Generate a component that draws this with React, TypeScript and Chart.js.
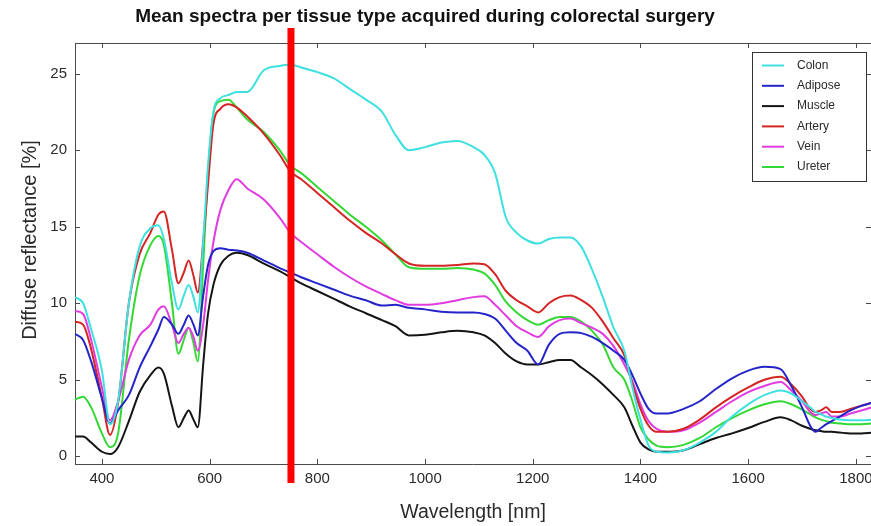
import React, { useEffect, useRef } from 'react';
import { Chart, registerables } from 'chart.js';
Chart.register(...registerables);

const TITLE = 'Mean spectra per tissue type acquired during colorectal surgery';
const X_TITLE = 'Wavelength [nm]';
const Y_TITLE = 'Diffuse reflectance [%]';

const WAVELENGTHS = [350, 365, 380, 400, 415, 430, 450, 470, 490, 505, 515, 530, 542, 552, 561, 570, 578, 588, 597, 607, 620, 635, 650, 670, 700, 730, 750, 770, 800, 830, 860, 890, 920, 945, 970, 1000, 1030, 1060, 1090, 1110, 1130, 1150, 1170, 1190, 1210, 1230, 1250, 1270, 1290, 1310, 1330, 1350, 1370, 1385, 1400, 1415, 1430, 1450, 1480, 1510, 1540, 1570, 1600, 1630, 1660, 1680, 1700, 1715, 1725, 1735, 1745, 1755, 1770, 1790, 1810, 1830];

const COLON = [10.4, 10.0, 8.3, 5.6, 2.1, 3.6, 10.0, 13.7, 14.9, 15.1, 14.2, 11.3, 9.6, 10.5, 11.2, 10.4, 9.4, 14.0, 19.0, 22.5, 23.4, 23.6, 23.8, 23.8, 25.2, 25.5, 25.6, 25.4, 25.1, 24.7, 24.0, 23.3, 22.5, 21.0, 20.0, 20.2, 20.5, 20.6, 20.2, 19.7, 18.5, 15.6, 14.6, 14.1, 13.9, 14.2, 14.3, 14.3, 13.7, 12.2, 10.4, 8.4, 6.9, 4.5, 2.4, 0.7, 0.3, 0.25, 0.4, 0.9, 1.6, 2.6, 3.4, 4.0, 4.3, 4.1, 3.6, 3.2, 2.9, 2.75, 2.6, 2.5, 2.4, 2.35, 2.35, 2.4];
const ADIPOSE = [8.0, 7.6, 6.2, 3.8, 2.15, 3.0, 4.0, 5.8, 7.2, 8.3, 9.1, 8.6, 8.0, 8.6, 9.2, 8.6, 7.9, 10.5, 12.5, 13.4, 13.6, 13.5, 13.45, 13.3, 12.8, 12.3, 12.0, 11.7, 11.3, 10.9, 10.5, 10.2, 9.85, 9.9, 9.7, 9.6, 9.45, 9.4, 9.4, 9.3, 9.0, 8.2, 7.4, 6.9, 6.0, 7.3, 8.0, 8.1, 8.05, 7.8, 7.4, 6.9, 6.3, 5.3, 4.1, 3.1, 2.8, 2.8, 3.1, 3.6, 4.4, 5.1, 5.6, 5.85, 5.7, 4.6, 3.2, 2.0, 1.6, 1.85, 2.1, 2.3, 2.6, 3.0, 3.3, 3.5];
const MUSCLE = [1.3, 1.3, 0.9, 0.3, 0.15, 0.6, 2.3, 4.2, 5.3, 5.8, 5.4, 3.3, 1.9, 2.5, 3.0, 2.4, 1.9, 6.0, 9.3, 11.2, 12.5, 13.1, 13.3, 13.15, 12.6, 12.1, 11.7, 11.3, 10.8, 10.3, 9.8, 9.35, 8.9, 8.5, 7.9, 7.95, 8.1, 8.2, 8.1, 7.9, 7.4, 6.7, 6.2, 6.0, 6.0, 6.15, 6.3, 6.3, 5.8, 5.3, 4.7, 4.0, 3.2, 2.0, 0.9, 0.45, 0.3, 0.3, 0.4, 0.8, 1.2, 1.5, 1.85, 2.25, 2.55, 2.35, 2.0, 1.8, 1.7, 1.65, 1.6, 1.6, 1.55, 1.5, 1.5, 1.55];
const ARTERY = [8.8, 8.6, 7.0, 3.8, 1.4, 3.5, 10.0, 13.2, 14.6, 15.8, 16.0, 13.5, 11.3, 12.0, 12.8, 11.8, 10.7, 14.0, 17.8, 21.7, 22.7, 23.0, 22.8, 22.2, 21.1, 19.7, 18.6, 18.1, 17.2, 16.3, 15.4, 14.6, 13.9, 13.2, 12.6, 12.45, 12.45, 12.5, 12.6, 12.55, 11.9, 10.8, 10.2, 9.8, 9.4, 10.0, 10.4, 10.5, 10.2, 9.7, 8.8, 7.7, 6.6, 4.7, 3.1, 2.0, 1.6, 1.6, 1.8, 2.4, 3.2, 3.9, 4.5, 5.0, 5.2, 4.7, 3.9, 3.1, 2.9, 3.0, 3.2, 2.9, 2.9, 3.1, 3.3, 3.5];
const VEIN = [9.5, 9.3, 7.6, 4.5, 2.35, 3.6, 6.3, 7.9, 8.6, 9.6, 9.8, 8.6, 7.4, 8.0, 8.4, 7.8, 6.9, 8.6, 11.5, 14.0, 16.1, 17.4, 18.1, 17.5, 16.8, 15.6, 14.6, 14.0, 13.2, 12.4, 11.7, 11.1, 10.6, 10.2, 9.9, 9.9, 10.0, 10.2, 10.4, 10.45, 9.9, 9.2, 8.5, 8.1, 7.8, 8.5, 8.9, 9.0, 8.7, 8.4, 8.0, 7.2, 6.0, 4.9, 3.4, 2.3, 1.8, 1.6, 1.7, 2.2, 2.9, 3.6, 4.2, 4.6, 4.85, 4.3, 3.6, 2.9, 2.7, 2.8, 2.9, 2.6, 2.6, 2.8, 3.0, 3.2];
const URETER = [3.7, 3.9, 3.2, 1.5, 0.6, 1.5, 7.6, 11.8, 13.8, 14.4, 13.8, 10.0, 6.7, 7.6, 8.4, 7.4, 6.2, 12.5, 18.5, 22.4, 23.2, 23.3, 22.8, 22.0, 21.2, 20.0, 19.0, 18.5, 17.6, 16.7, 15.8, 15.0, 14.1, 13.2, 12.35, 12.25, 12.25, 12.3, 12.2, 11.95, 11.2, 10.1, 9.4, 8.9, 8.6, 8.9, 9.1, 9.1, 8.8, 8.2, 7.3, 5.8, 5.0, 3.6, 1.9, 1.1, 0.7, 0.6, 0.75, 1.2, 1.9, 2.5, 3.0, 3.4, 3.6, 3.4, 3.05, 2.75, 2.55, 2.4, 2.3, 2.2, 2.15, 2.1, 2.1, 2.15];

const SERIES_NAMES = ['Colon', 'Adipose', 'Muscle', 'Artery', 'Vein', 'Ureter'];
const SERIES_VALUES = [COLON, ADIPOSE, MUSCLE, ARTERY, VEIN, URETER];
const SERIES_COLORS = ['#3ee0e0', '#2424c8', '#141414', '#d42424', '#e03ce0', '#34d834'];

const X_TICKS = [400, 600, 800, 1000, 1200, 1400, 1600, 1800];
const Y_TICKS = [0, 5, 10, 15, 20, 25];
const X_MIN = 350;
const X_MAX = 1828;
const Y_MIN = -0.5;
const Y_MAX = 27;
const MARKER_NM = 751;

const FONT = "'Liberation Sans', Arial, sans-serif";
const AXIS_COLOR = '#4a4a4a';
const TEXT_COLOR = '#2a2a2a';

const framePlugin = {
  id: 'frameAndExtras',
  afterDraw(chart: any) {
    const { ctx, chartArea, scales } = chart;
    const { left, right, top, bottom } = chartArea;
    const xs = scales.x;
    const ys = scales.y;
    ctx.save();
    ctx.strokeStyle = AXIS_COLOR;
    ctx.lineWidth = 1;
    ctx.beginPath();
    ctx.moveTo(left, top + 0.5);
    ctx.lineTo(right, top + 0.5);
    ctx.stroke();
    const tl = 5;
    ctx.beginPath();
    X_TICKS.forEach((v) => {
      const px = Math.round(xs.getPixelForValue(v)) + 0.5;
      ctx.moveTo(px, bottom);
      ctx.lineTo(px, bottom - tl);
      ctx.moveTo(px, top);
      ctx.lineTo(px, top + tl);
    });
    Y_TICKS.forEach((v) => {
      const py = Math.round(ys.getPixelForValue(v)) + 0.5;
      ctx.moveTo(left, py);
      ctx.lineTo(left + tl, py);
      ctx.moveTo(right, py);
      ctx.lineTo(right - tl, py);
    });
    ctx.stroke();

    // legend
    const lx = 752, ly = 52, lw = 114, lh = 129;
    ctx.fillStyle = '#ffffff';
    ctx.fillRect(lx, ly, lw, lh);
    ctx.strokeStyle = '#333333';
    ctx.strokeRect(lx + 0.5, ly + 0.5, lw, lh);
    ctx.font = `12px ${FONT}`;
    ctx.textBaseline = 'middle';
    ctx.textAlign = 'left';
    chart.data.datasets.forEach((ds: any, i: number) => {
      const yy = 65.5 + i * 20.3;
      ctx.strokeStyle = ds.borderColor;
      ctx.lineWidth = 2;
      ctx.beginPath();
      ctx.moveTo(762, yy);
      ctx.lineTo(784, yy);
      ctx.stroke();
      ctx.fillStyle = TEXT_COLOR;
      ctx.fillText(ds.label, 797, yy);
    });

    // marker line
    const mx = xs.getPixelForValue(MARKER_NM);
    ctx.fillStyle = '#ff0000';
    ctx.fillRect(mx - 3.5, top - 15, 7, bottom - top + 34);

    // title
    ctx.fillStyle = '#111111';
    ctx.font = `bold 19px ${FONT}`;
    ctx.textAlign = 'center';
    ctx.textBaseline = 'middle';
    ctx.fillText(TITLE, 425, 17);

    // y axis title
    ctx.save();
    ctx.translate(30, 240);
    ctx.rotate(-Math.PI / 2);
    ctx.fillStyle = TEXT_COLOR;
    ctx.font = `20px ${FONT}`;
    ctx.textAlign = 'center';
    ctx.textBaseline = 'middle';
    ctx.fillText(Y_TITLE, 0, 0);
    ctx.restore();
    ctx.restore();
  },
};

export default function App() {
  const ref = useRef<HTMLCanvasElement | null>(null);
  useEffect(() => {
    if (!ref.current) return;
    const datasets = SERIES_NAMES.map((name, i) => ({
      label: name,
      data: WAVELENGTHS.map((w, j) => ({ x: w, y: SERIES_VALUES[i][j] })),
      borderColor: SERIES_COLORS[i],
      backgroundColor: SERIES_COLORS[i],
      borderWidth: 2,
      pointRadius: 0,
      cubicInterpolationMode: 'monotone' as const,
      fill: false,
    }));
    const chart = new Chart(ref.current, {
      type: 'line',
      data: { datasets },
      options: {
        responsive: false,
        animation: false,
        layout: { padding: { top: 43, left: 0, right: 0, bottom: 0 } },
        plugins: { legend: { display: false }, title: { display: false }, tooltip: { enabled: false } },
        scales: {
          x: {
            type: 'linear',
            min: X_MIN,
            max: X_MAX,
            afterBuildTicks: (s: any) => { s.ticks = X_TICKS.map((v) => ({ value: v })); },
            afterFit: (s: any) => { s.height = 62; s.paddingLeft = 0; s.paddingRight = 0; },
            grid: { display: false, drawTicks: false },
            border: { display: true, color: AXIS_COLOR, width: 1 },
            ticks: { padding: 6, color: TEXT_COLOR, font: { family: FONT, size: 15 }, maxRotation: 0, autoSkip: false, callback: (v: any) => String(v) },
            title: { display: true, text: X_TITLE, color: TEXT_COLOR, font: { family: FONT, size: 19.5 }, padding: { top: 0, bottom: 2 } },
          },
          y: {
            type: 'linear',
            min: Y_MIN,
            max: Y_MAX,
            afterBuildTicks: (s: any) => { s.ticks = Y_TICKS.map((v) => ({ value: v })); },
            afterFit: (s: any) => { s.width = 75; s.paddingTop = 0; s.paddingBottom = 0; },
            grid: { display: false, drawTicks: false },
            border: { display: true, color: AXIS_COLOR, width: 1 },
            ticks: { padding: 8, color: TEXT_COLOR, font: { family: FONT, size: 15 }, autoSkip: false, callback: (v: any) => String(v) },
            title: { display: false },
          },
        },
      },
      plugins: [framePlugin],
    });
    return () => chart.destroy();
  }, []);
  return (
    <div style={{ position: 'fixed', left: 0, top: 0, width: 871, height: 526, background: '#ffffff' }}>
      <canvas ref={ref} width={871} height={526} style={{ display: 'block' }} />
    </div>
  );
}
